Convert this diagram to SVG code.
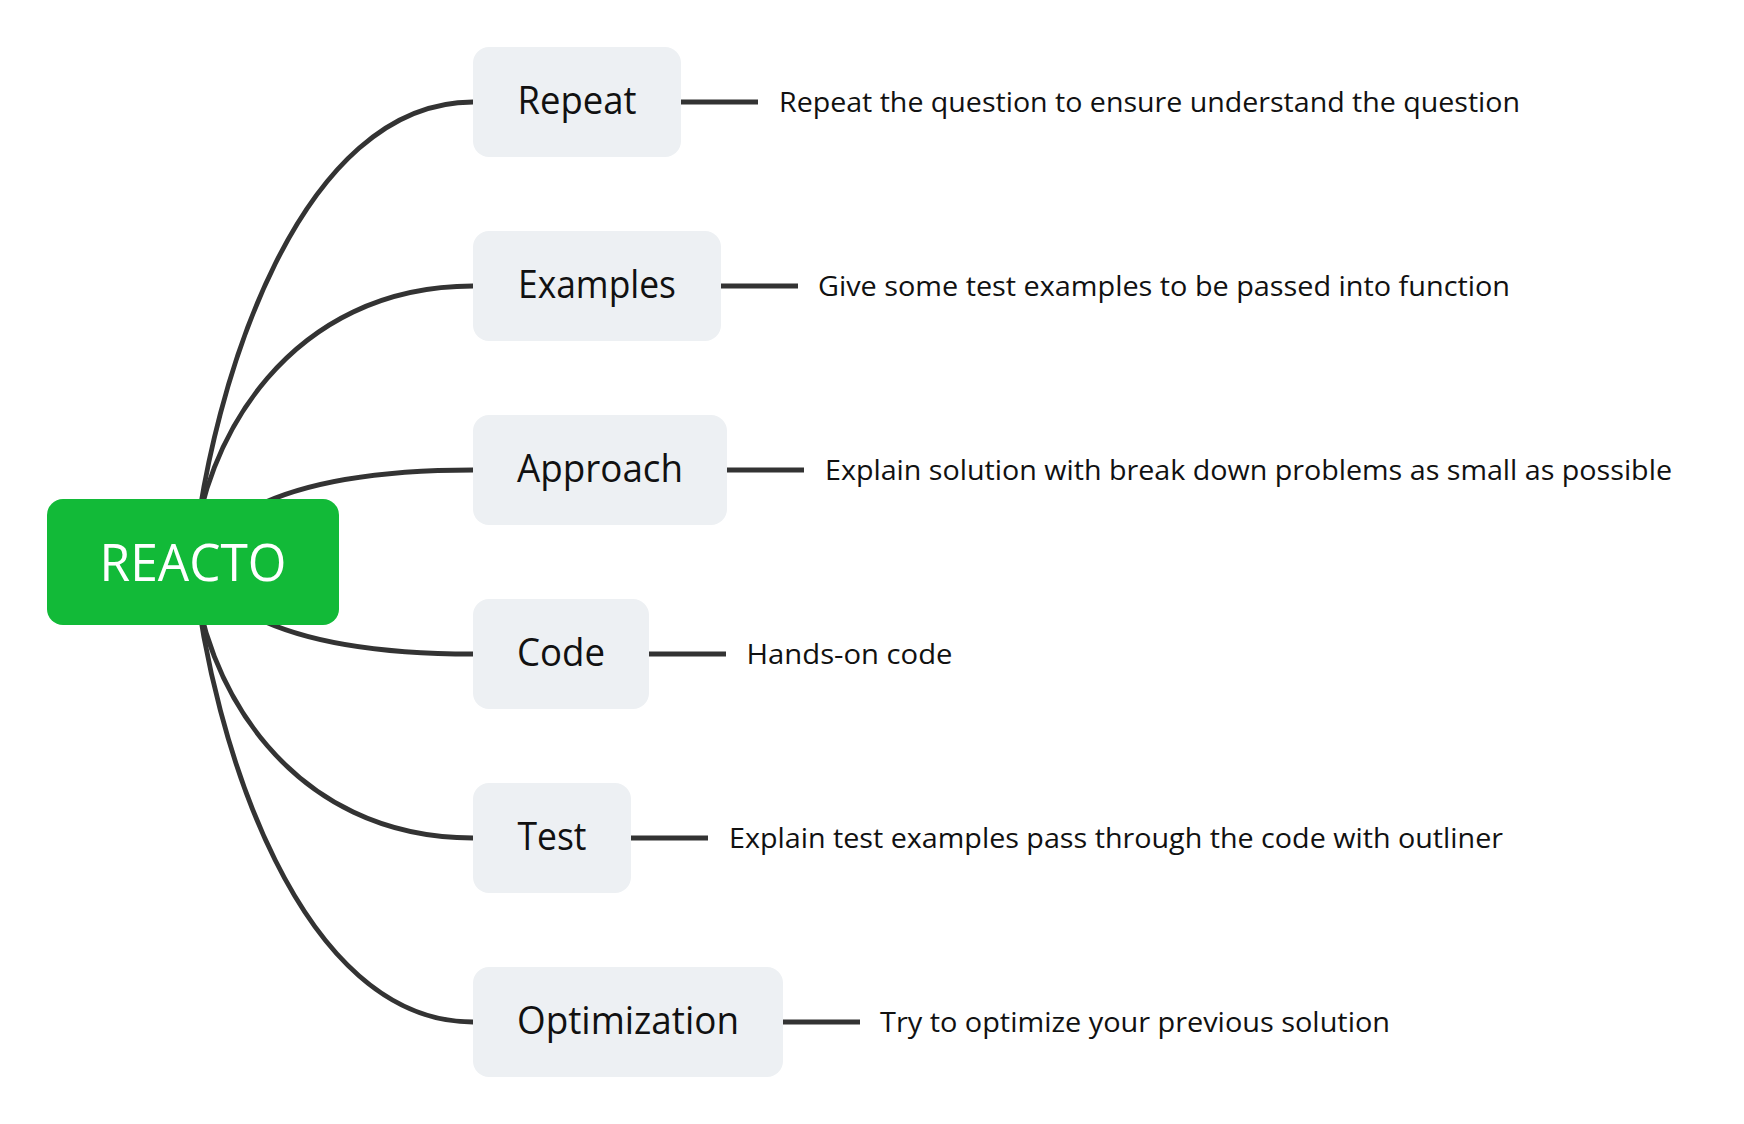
<svg xmlns="http://www.w3.org/2000/svg" width="1744" height="1124" viewBox="0 0 1744 1124">
<style>
.bg{fill:#ffffff}
.curve{fill:none;stroke:#333333;stroke-width:4.8;stroke-linecap:butt}
.line{fill:none;stroke:#333333;stroke-width:5}
.root rect{fill:#12BA38}
.root text{fill:#ffffff;font-family:"Open Sans","Noto Sans","Liberation Sans",sans-serif;font-size:52px;text-anchor:middle}
.topic rect{fill:#EDF0F3}
.topic text{fill:#111111;font-family:"Open Sans","Noto Sans","Liberation Sans",sans-serif;font-size:38px;text-anchor:middle}
.desc text{fill:#111111;font-family:"Open Sans","Noto Sans","Liberation Sans",sans-serif;font-size:28px}
</style>
<rect class="bg" x="0" y="0" width="1744" height="1124"/>
<g id="connectors">
<path class="curve" d="M193,562 C212,380 300,102 473,102"/>
<path class="curve" d="M193,562 C201,440 290,286 473,286"/>
<path class="curve" d="M193,562 Q246,470 473,470"/>
<path class="curve" d="M193,562 Q246,654 473,654"/>
<path class="curve" d="M193,562 C201,684 290,838 473,838"/>
<path class="curve" d="M193,562 C212,744 300,1022 473,1022"/>
<path class="line" d="M681,102 H758"/>
<path class="line" d="M721,286 H798"/>
<path class="line" d="M727,470 H804"/>
<path class="line" d="M649,654 H726"/>
<path class="line" d="M631,838 H708"/>
<path class="line" d="M783,1022 H860"/>
</g>
<g id="root" class="root">
<rect x="47" y="499" width="292" height="126" rx="16"/>
<text x="193" y="581" textLength="187" lengthAdjust="spacingAndGlyphs">REACTO</text>
</g>
<g id="node-repeat" class="topic">
<rect x="473" y="47" width="208" height="110" rx="16"/>
<text x="577" y="113.5" textLength="119" lengthAdjust="spacingAndGlyphs">Repeat</text>
</g>
<g id="node-examples" class="topic">
<rect x="473" y="231" width="248" height="110" rx="16"/>
<text x="597" y="297.5" textLength="158" lengthAdjust="spacingAndGlyphs">Examples</text>
</g>
<g id="node-approach" class="topic">
<rect x="473" y="415" width="254" height="110" rx="16"/>
<text x="600" y="481.5" textLength="166" lengthAdjust="spacingAndGlyphs">Approach</text>
</g>
<g id="node-code" class="topic">
<rect x="473" y="599" width="176" height="110" rx="16"/>
<text x="561" y="665.5" textLength="88" lengthAdjust="spacingAndGlyphs">Code</text>
</g>
<g id="node-test" class="topic">
<rect x="473" y="783" width="158" height="110" rx="16"/>
<text x="552" y="849.5" textLength="69" lengthAdjust="spacingAndGlyphs">Test</text>
</g>
<g id="node-optimization" class="topic">
<rect x="473" y="967" width="310" height="110" rx="16"/>
<text x="628" y="1033.5" textLength="222" lengthAdjust="spacingAndGlyphs">Optimization</text>
</g>
<g id="desc-repeat" class="desc"><text x="779" y="112" textLength="741" lengthAdjust="spacingAndGlyphs">Repeat the question to ensure understand the question</text></g>
<g id="desc-examples" class="desc"><text x="818" y="296" textLength="692" lengthAdjust="spacingAndGlyphs">Give some test examples to be passed into function</text></g>
<g id="desc-approach" class="desc"><text x="825" y="480" textLength="847" lengthAdjust="spacingAndGlyphs">Explain solution with break down problems as small as possible</text></g>
<g id="desc-code" class="desc"><text x="746.5" y="664" textLength="206" lengthAdjust="spacingAndGlyphs">Hands-on code</text></g>
<g id="desc-test" class="desc"><text x="729" y="848" textLength="774" lengthAdjust="spacingAndGlyphs">Explain test examples pass through the code with outliner</text></g>
<g id="desc-optimization" class="desc"><text x="880" y="1032" textLength="510" lengthAdjust="spacingAndGlyphs">Try to optimize your previous solution</text></g>
</svg>
